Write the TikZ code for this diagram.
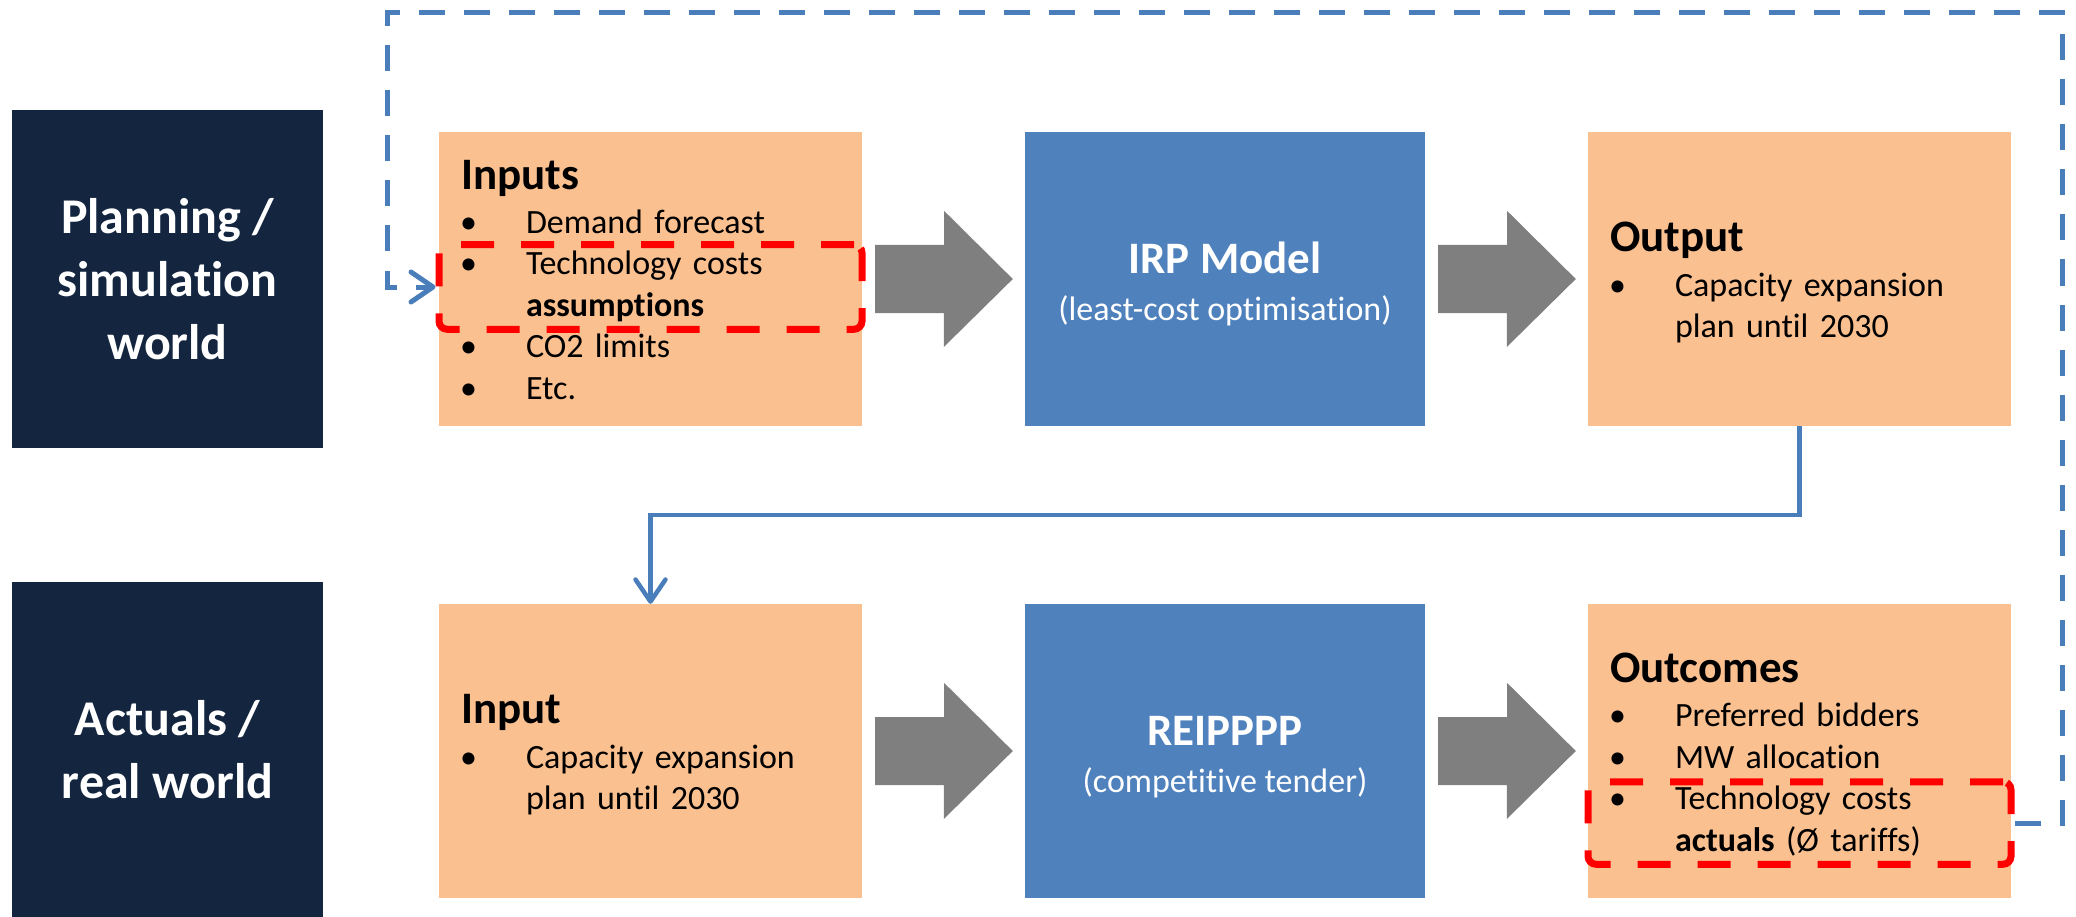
\documentclass[tikz,border=0pt]{standalone}
\usepackage{fontspec}
\setmainfont{Carlito}[Ligatures=NoCommon]
\definecolor{irnavy}{HTML}{13253F}
\definecolor{irpeach}{HTML}{FAC090}
\definecolor{irblue}{HTML}{4F81BD}
\definecolor{irline}{HTML}{4A7EBB}
\definecolor{irgrey}{HTML}{7F7F7F}
\definecolor{irred}{HTML}{FF0000}
\usetikzlibrary{arrows.meta,calc}
\newcommand{\bodyfont}{\fontsize{34}{41.5}\selectfont}
\newcommand{\headfont}{\fontsize{45}{47}\selectfont\bfseries}
\newcommand{\worldfont}{\fontsize{50}{63}\selectfont\bfseries}
\newcommand{\bitem}[1]{\makebox[65pt][l]{\hspace{-1pt}\textbullet}#1}
\newcommand{\bcont}[1]{\hspace*{65pt}#1}
\newcommand{\boxtitle}[1]{\rule{0pt}{41pt}{\headfont #1}}
\newcommand{\lastdepth}{\rule[-10pt]{0pt}{10pt}}

\begin{document}
\begin{tikzpicture}[x=1pt,y=-1pt,
  world/.style={fill=irnavy,text=white,font=\worldfont,align=center,
    minimum width=311pt,inner sep=0pt},
  note/.style={fill=irpeach,minimum width=423pt,minimum height=294pt,
    text width=379pt,inner xsep=22pt,inner ysep=0pt,align=left,font=\bodyfont},
  model/.style={fill=irblue,text=white,minimum width=400pt,minimum height=294pt,
    inner sep=0pt,align=center,font=\headfont},
  hilite/.style={draw=irred,line width=7pt,dash pattern=on 33pt off 27pt,
    rounded corners=8pt,minimum width=423pt,inner sep=0pt},
  link/.style={irline,line width=4.5pt,-{Straight Barb[length=22pt,width=30pt,round]}},
  loopback/.style={link,line width=5pt,dash pattern=on 26pt off 19pt}]
\useasboundingbox (0,0) rectangle (2076,917);
% the two worlds
\node[world,minimum height=338pt] (plan) at (167.5,279) {Planning /\\simulation\\world};
\node[world,minimum height=335pt] (real) at (167.5,749.5) {Actuals /\\real world};
% planning row
\node[note] (inputs) at (650.5,279) {\boxtitle{Inputs}\\[2.5pt]
  \bitem{Demand forecast}\\ \bitem{Technology costs}\\ \bcont{\textbf{assumptions}}\\
  \bitem{CO2 limits}\\ \bitem{Etc.}\lastdepth};
\node[model] (irp) at (1225,279) {\rule{0pt}{45pt}IRP Model\\{\bodyfont\mdseries (least-cost optimisation)\lastdepth}};
\node[note] (output) at (1799.5,279) {\boxtitle{Output}\\[3pt]
  \bitem{Capacity expansion}\\ \bcont{plan until 2030}\lastdepth};
% real row
\node[note] (input) at (650.5,751) {\boxtitle{Input}\\[3pt]
  \bitem{Capacity expansion}\\ \bcont{plan until 2030}\lastdepth};
\node[model] (reipppp) at (1225,751) {\rule{0pt}{45pt}REIPPPP\\{\bodyfont\mdseries (competitive tender)\lastdepth}};
\node[note] (outcomes) at (1799.5,751) {\boxtitle{Outcomes}\\[3pt]
  \bitem{Preferred bidders}\\ \bitem{MW allocation}\\ \bitem{Technology costs}\\
  \bcont{\textbf{actuals} (Ø tariffs)}\lastdepth};
% cost assumptions vs cost actuals
\node[hilite,minimum height=84.5pt] (assume) at (650.5,287) {};
\node[hilite,minimum height=82.5pt] (actual) at (1799.5,823) {};
% grey block arrows between the boxes
\foreach \a/\b in {inputs/irp,irp/output,input/reipppp,reipppp/outcomes}
  \fill[irgrey] ($(\a.east)+(13,-34)$) -- ++(69,0) -- ++(0,-34)
    -- ($(\b.west)+(-12,0)$) -- ++(-69,68) -- ++(0,-34)
    -- ($(\a.east)+(13,34)$) -- cycle;
% plan handed to the tender, actual costs fed back
\draw[link] (output.south) -- ++(0,89) -| (input.north);
\coordinate (turn-r) at (2062,13);
\coordinate (turn-l) at (387,13);
\draw[loopback] (actual.east) -| (turn-r) -- (turn-l) |- (assume.west);
\end{tikzpicture}
\end{document}
